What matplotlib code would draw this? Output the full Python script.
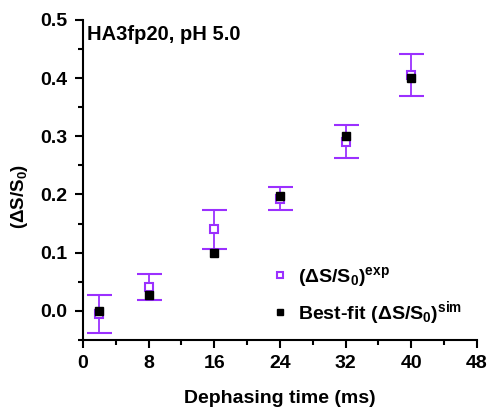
import matplotlib
matplotlib.use("Agg")
import matplotlib.pyplot as plt
from matplotlib.lines import Line2D

plt.rcParams['font.family'] = ['Liberation Sans', 'DejaVu Sans']
plt.rcParams['font.weight'] = 'bold'
plt.rcParams['mathtext.fontset'] = 'custom'
plt.rcParams['mathtext.default'] = 'bf'
plt.rcParams['mathtext.bf'] = 'Liberation Sans:bold'
plt.rcParams['mathtext.rm'] = 'Liberation Sans:bold'

# Dephasing times (ms)
times = [2, 8, 16, 24, 32, 40]
# experimental dS/S0 and error
exp_vals = [-0.005, 0.041, 0.140, 0.193, 0.291, 0.406]
exp_err = [0.033, 0.023, 0.034, 0.019, 0.028, 0.036]
# best-fit simulated values
sim_vals = [0.0, 0.028, 0.100, 0.197, 0.300, 0.400]

purple = '#9b30ff'

fig = plt.figure(figsize=(4.91, 4.08), dpi=100)
ax = fig.add_axes([0.169, 0.167, 0.802, 0.784])

ax.errorbar(times, exp_vals, yerr=exp_err, fmt='s', color=purple, mfc='white',
            mec=purple, mew=1.5, ms=6, ecolor=purple, elinewidth=1.3,
            capsize=9, capthick=1.3, zorder=2)
ax.plot(times, sim_vals, 's', color='black', ms=6, zorder=3)

ax.set_xlim(0, 48)
ax.set_ylim(-0.05, 0.5)
ax.set_xticks([0, 8, 16, 24, 32, 40, 48])
ax.set_xticks([4, 12, 20, 28, 36, 44], minor=True)
ax.set_yticks([0.0, 0.1, 0.2, 0.3, 0.4, 0.5])
ax.set_yticks([-0.05, 0.05, 0.15, 0.25, 0.35, 0.45], minor=True)
ax.set_yticklabels(['0.0', '0.1', '0.2', '0.3', '0.4', '0.5'])
ax.tick_params(which='major', length=6, width=1.5, labelsize=14, pad=5)
ax.tick_params(which='minor', length=3.5, width=1.5)
for s in ['top', 'right']:
    ax.spines[s].set_visible(False)
for s in ['left', 'bottom']:
    ax.spines[s].set_linewidth(1.5)

ax.set_xlabel('Dephasing time (ms)', fontsize=14, fontweight='bold')
ax.xaxis.set_label_coords(0.5, -0.158)
ax.set_ylabel(r'$(\Delta S/S_0)$', fontsize=13.5)
ax.yaxis.set_label_coords(-0.135, 0.45)
ax.text(0.01, 0.985, 'HA3fp20, pH 5.0', transform=ax.transAxes, fontsize=14.5,
        fontweight='bold', va='top', ha='left')

h0 = Line2D([], [], ls='none', marker='s', mfc='white', mec=purple, mew=1.5, ms=5)
h1 = Line2D([], [], ls='none', marker='s', color='black', ms=5)
ax.legend([h0, h1], [r'$(\Delta S/S_0)^{exp}$', r'Best-fit $(\Delta S/S_0)^{sim}$'],
          loc='center left', bbox_to_anchor=(0.48, 0.138), borderpad=0,
          borderaxespad=0, frameon=False, fontsize=14, handlelength=0.8,
          handletextpad=0.55, labelspacing=0.5)

fig.savefig('out.png', dpi=100)
